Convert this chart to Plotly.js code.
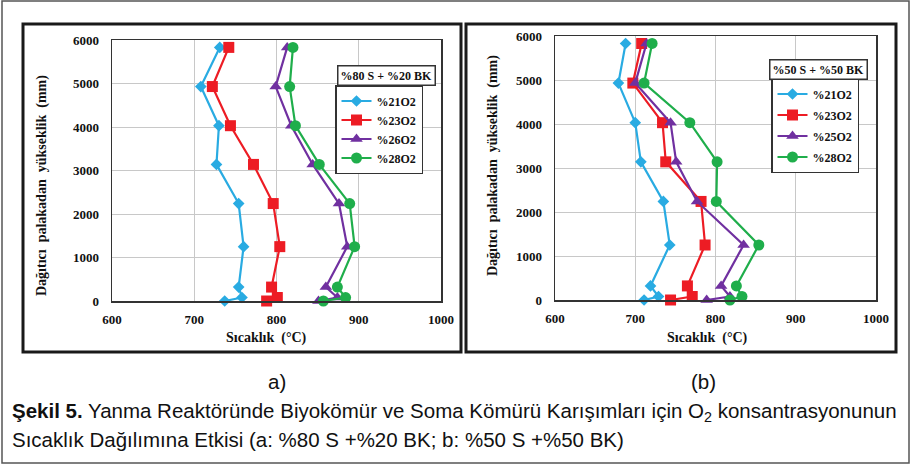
<!DOCTYPE html>
<html>
<head>
<meta charset="utf-8">
<script src="https://cdn.plot.ly/plotly-3.0.1.min.js"></script>
<style>html,body{margin:0;padding:0;background:#fff;}#chart{width:912px;height:471px;}</style>
</head>
<body>
<div id="chart"></div>
<script>
// Heights above distributor plate (mm)
const heights = [5830, 4930, 4030, 3140, 2240, 1250, 320, 80, 0];

// Panel a: %80 S + %20 BK
const namesA = ["%21O2", "%23O2", "%26O2", "%28O2"];
const o21A = [731, 708, 730, 727, 754, 760, 754, 758, 737];
const o23A = [742, 722, 744, 772, 796, 804, 794, 801, 788];
const o26A = [813, 799, 818, 844, 876, 886, 860, 874, 851];
const o28A = [820, 816, 823, 852, 889, 895, 874, 884, 857];

// Panel b: %50 S + %50 BK
const namesB = ["%21O2", "%23O2", "%25O2", "%28O2"];
const o21B = [688, 679, 700, 707, 735, 743, 719, 729, 711];
const o23B = [708, 697, 734, 738, 782, 787, 765, 771, 744];
const o25B = [714, 700, 744, 751, 777, 835, 807, 818, 789];
const o28B = [721, 711, 768, 802, 801, 854, 826, 833, 818];

const legendTitleA = "%80 S + %20 BK";
const legendTitleB = "%50 S + %50 BK";
const xTicks = [600, 700, 800, 900, 1000];
const yTicks = [0, 1000, 2000, 3000, 4000, 5000, 6000];

const W = 912, H = 471;
const px = x => x / W;
const py = y => 1 - y / H;

const colors = ["#29abe2", "#ed1c24", "#7030a0", "#1fae4b"];
const symbols = ["diamond", "square", "triangle-up", "circle"];
const sizes = [9, 11, 11, 11];

function mk(xs, name, i, axis, legend) {
  return {
    x: xs, y: heights, name: name, type: "scatter", mode: "lines+markers",
    xaxis: axis.x, yaxis: axis.y, legend: legend, legendgroup: legend + i,
    cliponaxis: false,
    line: {color: colors[i], width: 2.2},
    marker: {color: colors[i], symbol: symbols[i], size: sizes[i]}
  };
}
const axA = {x: "x", y: "y"}, axB = {x: "x2", y: "y2"};
const data = [
  mk(o21A, namesA[0], 0, axA, "legend"),
  mk(o23A, namesA[1], 1, axA, "legend"),
  mk(o26A, namesA[2], 2, axA, "legend"),
  mk(o28A, namesA[3], 3, axA, "legend"),
  mk(o21B, namesB[0], 0, axB, "legend2"),
  mk(o23B, namesB[1], 1, axB, "legend2"),
  mk(o25B, namesB[2], 2, axB, "legend2"),
  mk(o28B, namesB[3], 3, axB, "legend2")
];

const serif = "Liberation Serif, Times New Roman, serif";
const tickFont = {family: serif, size: 13, color: "#111", weight: "bold"};

function xAxis(domain, anchor) {
  return {
    domain: domain, anchor: anchor, range: [600, 1000], tickvals: xTicks,
    showgrid: true, gridcolor: "#c8c8c8", gridwidth: 1, zeroline: false,
    showline: true, mirror: true, linecolor: "#333", linewidth: 1.5,
    ticks: "", tickfont: tickFont, ticklabelstandoff: 6
  };
}
function yAxis(domain, anchor) {
  return {
    domain: domain, anchor: anchor, range: [0, 6000], tickvals: yTicks,
    showgrid: true, gridcolor: "#c8c8c8", gridwidth: 1, zeroline: false,
    showline: true, mirror: true, linecolor: "#333", linewidth: 1.5,
    ticks: "", tickfont: tickFont, ticklabelstandoff: 9
  };
}

const legendBase = {
  bgcolor: "#fff", bordercolor: "#333", borderwidth: 1.5,
  font: {family: serif, size: 12, color: "#111", weight: "bold"},
  xanchor: "left", yanchor: "top", itemwidth: 30, traceorder: "grouped",
  tracegroupgap: 1
};

const titleFont = {family: serif, size: 14, color: "#111", weight: "bold"};
const capFont = {family: "Liberation Sans, Arial, sans-serif", size: 20.5, color: "#111"};

function ann(x, y, text, font, extra) {
  return Object.assign({xref: "paper", yref: "paper", x: px(x), y: py(y), text: text,
    showarrow: false, font: font, xanchor: "center", yanchor: "middle"}, extra || {});
}
function rect(x0, y0, x1, y1, w, c) {
  return {type: "rect", xref: "paper", yref: "paper", x0: px(x0), x1: px(x1), y0: py(y1), y1: py(y0),
    line: {color: c, width: w}, fillcolor: "rgba(0,0,0,0)", layer: "below"};
}

const layout = {
  width: W, height: H, margin: {l: 0, r: 0, t: 0, b: 0},
  paper_bgcolor: "#fff", plot_bgcolor: "#fff", showlegend: true,
  xaxis: xAxis([px(112), px(441)], "y"),
  yaxis: yAxis([py(301), py(40)], "x"),
  xaxis2: xAxis([px(555), px(876)], "y2"),
  yaxis2: yAxis([py(300), py(36)], "x2"),
  legend: Object.assign({}, legendBase, {x: px(335), y: py(85), tracegroupgap: 0}),
  legend2: Object.assign({}, legendBase, {x: px(771), y: py(78), tracegroupgap: 2}),
  shapes: [
    rect(2, 1, 909, 463, 1.5, "#555"),
    rect(23, 24, 461, 352, 3, "#1a1a1a"),
    rect(466, 24, 896, 352, 3, "#1a1a1a")
  ],
  annotations: [
    ann(266, 338, "Sıcaklık  (°C)", titleFont),
    ann(707, 338, "Sıcaklık  (°C)", titleFont),
    ann(42, 186, "Dağıtıcı  palakadan  yükseklik  (mm)", titleFont, {textangle: -90}),
    ann(493, 166, "Dağıtıcı  palakadan  yükseklik  (mm)", titleFont, {textangle: -90}),
    ann(386, 76, legendTitleA, {family: serif, size: 12, color: "#111", weight: "bold"},
      {bordercolor: "#333", borderwidth: 1.5, borderpad: 2, bgcolor: "#fff"}),
    ann(818, 70, legendTitleB, {family: serif, size: 12, color: "#111", weight: "bold"},
      {bordercolor: "#333", borderwidth: 1.5, borderpad: 2, bgcolor: "#fff"}),
    ann(277, 381, "a)", capFont),
    ann(703, 381, "(b)", capFont),
    ann(10, 412, "<b>Şekil 5.</b> Yanma Reaktöründe Biyokömür ve Soma Kömürü Karışımları için O<sub>2</sub> konsantrasyonunun", capFont, {xanchor: "left"}),
    ann(10, 439, "Sıcaklık Dağılımına Etkisi (a: %80 S +%20 BK; b: %50 S +%50 BK)", capFont, {xanchor: "left"})
  ]
};

Plotly.newPlot("chart", data, layout, {displayModeBar: false, staticPlot: true});
</script>
</body>
</html>
